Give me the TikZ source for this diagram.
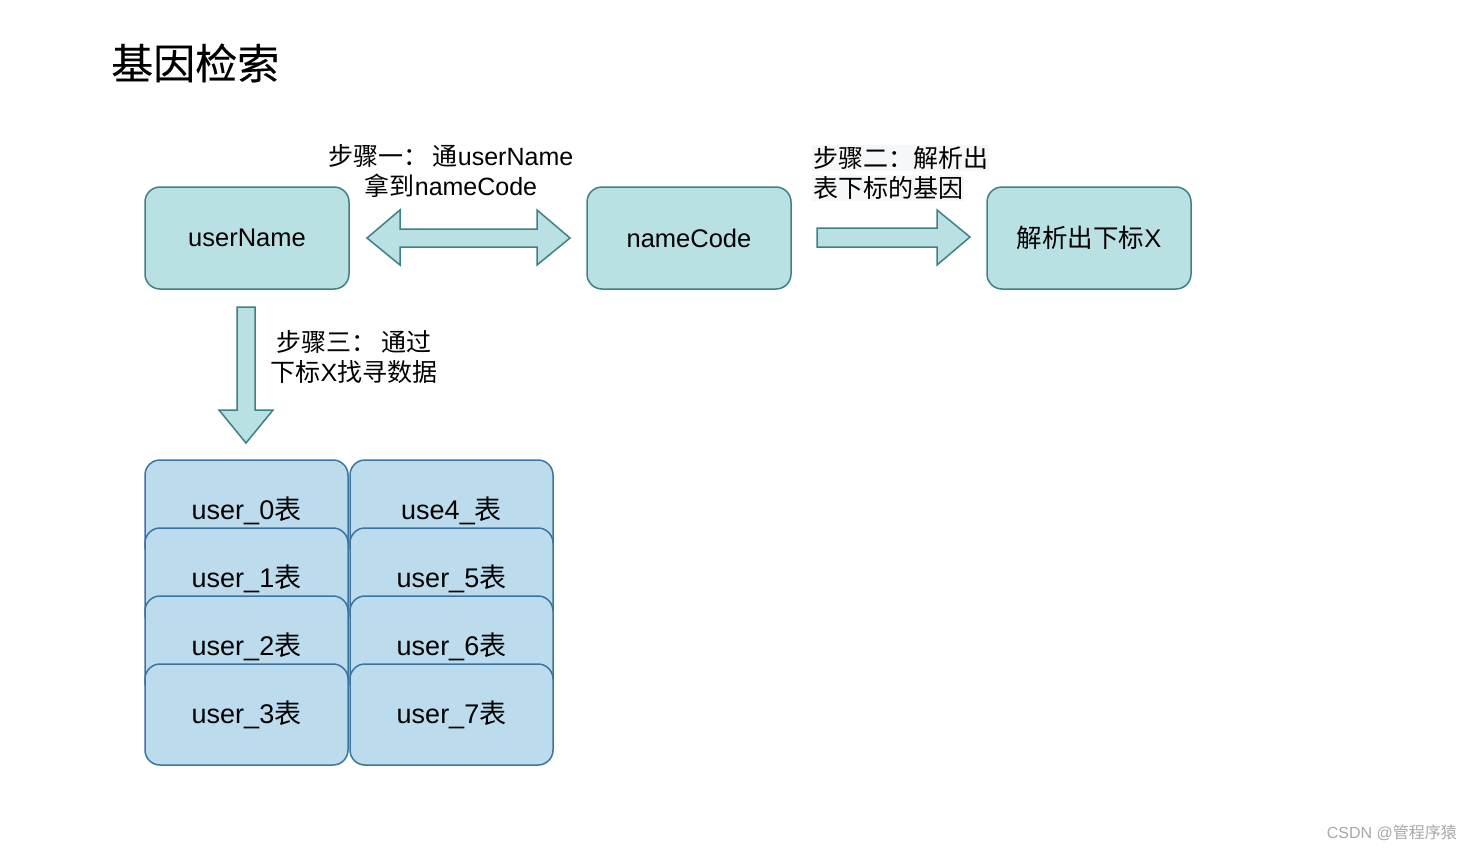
\documentclass[tikz,border=0pt]{standalone}
\usepackage{fontspec}
\setmainfont{Liberation Sans}
\newfontfamily\cjk{Noto Sans CJK SC}
\newfontfamily\cjktitle[FakeBold=0.25]{Noto Sans CJK SC}
\definecolor{tealfill}{HTML}{B9E0E3}
\definecolor{tealdraw}{HTML}{3F8085}
\definecolor{bluefill}{HTML}{BCDCEE}
\definecolor{bluedraw}{HTML}{3C74A0}
\definecolor{lblbg}{HTML}{F6F7F9}
\definecolor{wm}{HTML}{A8A8A8}
\tikzset{
  box/.style={draw=tealdraw, fill=tealfill, line width=1.5pt, rounded corners=15pt,
    minimum width=204pt, minimum height=102pt, inner sep=0pt,
    font=\fontsize{25.5}{30}\selectfont},
  tbl/.style={draw=bluedraw, fill=bluefill, line width=1.5pt, rounded corners=15pt,
    minimum width=203pt, minimum height=101pt, inner sep=0pt,
    font=\fontsize{27}{30}\selectfont},
  blockarrow/.style={draw=tealdraw, fill=tealfill, line width=1.5pt, line join=miter},
  lbl/.style={inner sep=0pt, align=center, font=\fontsize{25}{30}\selectfont},
}
\begin{document}
\begin{tikzpicture}[x=1pt,y=-1pt]
\useasboundingbox[fill=white] (0,0) rectangle (1472,852);
% title
\node[anchor=west, inner sep=0pt, font=\fontsize{42}{48}\selectfont\cjktitle] (title) at (111,63) {基因检索};
% top boxes
\node[box] (un) at (247,238) {userName};
\node[box] (nc) at (689,238) {nameCode};
\node[box] (idx) at (1089,238) {{\cjk 解析出下标}X};
% double arrow
\draw[blockarrow] (367,238) -- (400,210) -- (400,229) -- (537,229) -- (537,210) -- (570,238)
  -- (537,265) -- (537,247) -- (400,247) -- (400,265) -- cycle;
% right arrow
\draw[blockarrow] (817,228) -- (937,228) -- (937,210) -- (970,237) -- (937,265) -- (937,247) -- (817,247) -- cycle;
% down arrow
\draw[blockarrow] (237,307) -- (255,307) -- (255,410) -- (273,410) -- (246,443) -- (219,410) -- (237,410) -- cycle;
% labels
\node[lbl] (l1) at (451,171) {{\cjk 步骤一：\,通}userName\\{\cjk 拿到}nameCode};
\node[lbl, anchor=west, fill=lblbg, inner sep=1pt] (l2a) at (812,158) {\cjk 步骤二：解析出};
\node[lbl, anchor=west, fill=lblbg, inner sep=1pt] (l2b) at (812,188) {\cjk 表下标的基因};
\node[lbl] (l3) at (354,357) {{\cjk 步骤三：\,通过}\\{\cjk 下标}X{\cjk 找寻数据}};
% tables
\node[tbl] (t0) at (246.5,510.5) {user\_0{\cjk 表}};
\node[tbl] (t1) at (246.5,578.5) {user\_1{\cjk 表}};
\node[tbl] (t2) at (246.5,646.5) {user\_2{\cjk 表}};
\node[tbl] (t3) at (246.5,714.5) {user\_3{\cjk 表}};
\node[tbl] (t4) at (451.5,510.5) {use4\_{\cjk 表}};
\node[tbl] (t5) at (451.5,578.5) {user\_5{\cjk 表}};
\node[tbl] (t6) at (451.5,646.5) {user\_6{\cjk 表}};
\node[tbl] (t7) at (451.5,714.5) {user\_7{\cjk 表}};
% watermark
\node[anchor=east, inner sep=0pt, text=wm, font=\fontsize{16}{18}\selectfont] (wm) at (1457,833) {CSDN @{\cjk 管程序猿}};
\end{tikzpicture}
\end{document}
